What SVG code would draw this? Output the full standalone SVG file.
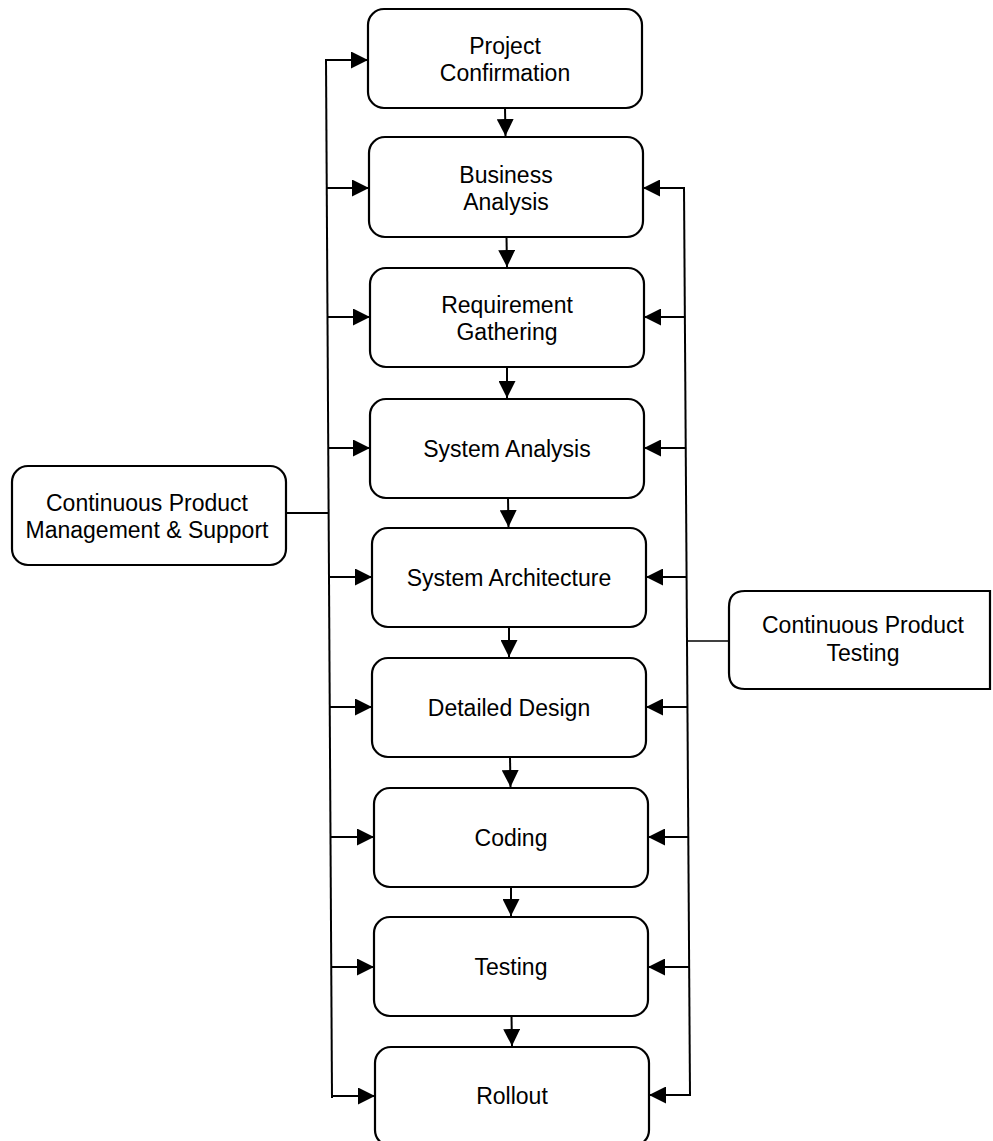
<svg xmlns="http://www.w3.org/2000/svg" width="993" height="1141" viewBox="0 0 993 1141">
  <style>
    .box { fill: #ffffff; stroke: #000000; stroke-width: 2.2; }
    .lbl { font-family: "Liberation Sans", Arial, sans-serif; font-size: 23px; fill: #000000; text-anchor: middle; }
    .wire { fill: none; stroke: #000000; stroke-width: 2; }
    .thin { fill: none; stroke: #000000; stroke-width: 1.6; }
    .arr { fill: none; stroke: #000000; stroke-width: 2; marker-end: url(#head); }
  </style>
  <defs>
    <marker id="head" markerUnits="userSpaceOnUse" viewBox="0 0 17 17" refX="17" refY="8.5" markerWidth="17" markerHeight="17" orient="auto">
      <path d="M0,0 L17,8.5 L0,17 Z" fill="#000000"/>
    </marker>
  </defs>
  <rect width="993" height="1141" fill="#ffffff"/>

  <!-- connectors -->
  <g id="connectors">
    <!-- main flow, top to bottom -->
    <line class="arr" x1="505" y1="108" x2="505.5" y2="136"/>
    <line class="arr" x1="506.5" y1="237" x2="507" y2="267"/>
    <line class="arr" x1="507" y1="367" x2="507" y2="398"/>
    <line class="arr" x1="508" y1="498" x2="508.5" y2="527"/>
    <line class="arr" x1="509" y1="627" x2="509" y2="657"/>
    <line class="arr" x1="510" y1="757" x2="510.5" y2="787"/>
    <line class="arr" x1="511" y1="887" x2="511" y2="916"/>
    <line class="arr" x1="511.5" y1="1016" x2="512" y2="1046"/>

    <!-- management & support bus (left) -->
    <line class="wire" x1="286" y1="513" x2="328.5" y2="513"/>
    <line class="wire" x1="326" y1="59" x2="332" y2="1098"/>
    <line class="arr" x1="325" y1="60" x2="368" y2="60"/>
    <line class="arr" x1="326.7" y1="188" x2="369" y2="188"/>
    <line class="arr" x1="327.5" y1="317" x2="370" y2="317"/>
    <line class="arr" x1="328.2" y1="448" x2="370" y2="448"/>
    <line class="arr" x1="329" y1="577" x2="372" y2="577"/>
    <line class="arr" x1="329.7" y1="707" x2="372" y2="707"/>
    <line class="arr" x1="330.5" y1="837" x2="374" y2="837"/>
    <line class="arr" x1="331.2" y1="967" x2="374" y2="967"/>
    <line class="arr" x1="331" y1="1096" x2="375" y2="1096"/>

    <!-- testing bus (right) -->
    <line class="thin" x1="729" y1="641" x2="687" y2="641"/>
    <line class="wire" x1="684" y1="187" x2="690" y2="1096"/>
    <line class="arr" x1="684" y1="188" x2="643" y2="188"/>
    <line class="arr" x1="684.9" y1="317" x2="644" y2="317"/>
    <line class="arr" x1="685.7" y1="448" x2="644" y2="448"/>
    <line class="arr" x1="686.6" y1="577" x2="646" y2="577"/>
    <line class="arr" x1="687.4" y1="707" x2="646" y2="707"/>
    <line class="arr" x1="688.3" y1="837" x2="648" y2="837"/>
    <line class="arr" x1="689.1" y1="967" x2="648" y2="967"/>
    <line class="arr" x1="691" y1="1095" x2="649" y2="1095"/>
  </g>

  <!-- phase nodes -->
  <g id="project-confirmation">
    <rect class="box" x="368" y="9" width="274" height="99" rx="16"/>
    <text class="lbl" x="505" y="54">Project</text>
    <text class="lbl" x="505" y="81">Confirmation</text>
  </g>
  <g id="business-analysis">
    <rect class="box" x="369" y="137" width="274" height="100" rx="16"/>
    <text class="lbl" x="506" y="183">Business</text>
    <text class="lbl" x="506" y="210">Analysis</text>
  </g>
  <g id="requirement-gathering">
    <rect class="box" x="370" y="268" width="274" height="99" rx="16"/>
    <text class="lbl" x="507" y="313">Requirement</text>
    <text class="lbl" x="507" y="340">Gathering</text>
  </g>
  <g id="system-analysis">
    <rect class="box" x="370" y="399" width="274" height="99" rx="16"/>
    <text class="lbl" x="507" y="457">System Analysis</text>
  </g>
  <g id="system-architecture">
    <rect class="box" x="372" y="528" width="274" height="99" rx="16"/>
    <text class="lbl" x="509" y="586">System Architecture</text>
  </g>
  <g id="detailed-design">
    <rect class="box" x="372" y="658" width="274" height="99" rx="16"/>
    <text class="lbl" x="509" y="716">Detailed Design</text>
  </g>
  <g id="coding">
    <rect class="box" x="374" y="788" width="274" height="99" rx="16"/>
    <text class="lbl" x="511" y="846">Coding</text>
  </g>
  <g id="testing">
    <rect class="box" x="374" y="917" width="274" height="99" rx="16"/>
    <text class="lbl" x="511" y="975">Testing</text>
  </g>
  <g id="rollout">
    <rect class="box" x="375" y="1047" width="274" height="99" rx="16"/>
    <text class="lbl" x="512" y="1104">Rollout</text>
  </g>

  <!-- side nodes -->
  <g id="management-support">
    <rect class="box" x="12" y="466" width="274" height="99" rx="16"/>
    <text class="lbl" x="147" y="511">Continuous Product</text>
    <text class="lbl" x="147" y="538">Management &amp; Support</text>
  </g>
  <g id="product-testing">
    <path class="box" d="M745,591 L990,591 L990,689 L745,689 Q729,689 729,673 L729,607 Q729,591 745,591 Z"/>
    <text class="lbl" x="863" y="633">Continuous Product</text>
    <text class="lbl" x="863" y="661">Testing</text>
  </g>
</svg>
